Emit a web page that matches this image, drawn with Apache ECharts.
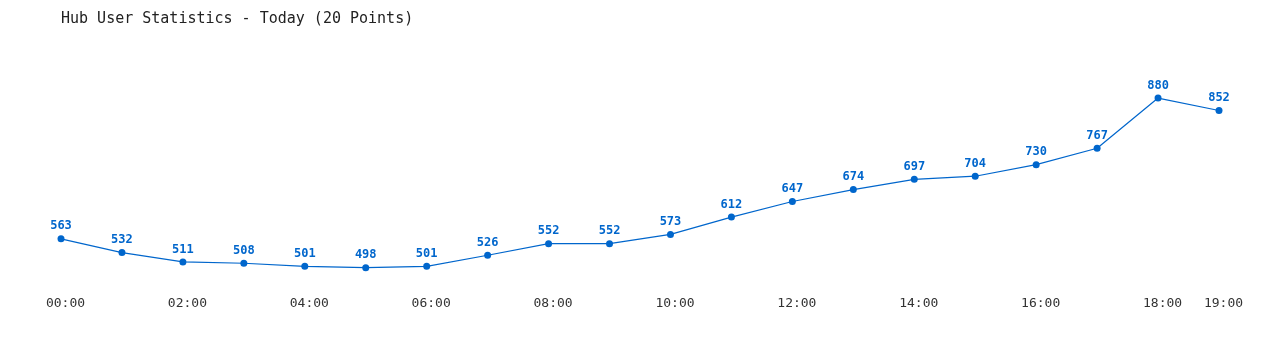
<!DOCTYPE html>
<html><head><meta charset="utf-8">
<script src="https://cdn.jsdelivr.net/npm/echarts@6/dist/echarts.min.js"></script>
<style>html,body{margin:0;padding:0;background:#fff}#c{width:1280px;height:350px}</style>
</head><body><div id="c"></div>
<script>
const titleText = 'Hub User Statistics - Today (20 Points)';
const categories = ['00:00','01:00','02:00','03:00','04:00','05:00','06:00','07:00','08:00','09:00','10:00','11:00','12:00','13:00','14:00','15:00','16:00','17:00','18:00','19:00'];
const users = [563,532,511,508,501,498,501,526,552,552,573,612,647,674,697,704,730,767,880,852];

const chart = echarts.init(document.getElementById('c'), null, {renderer:'canvas'});
const mono = '"DejaVu Sans Mono", "Liberation Mono", monospace';
chart.setOption({
  animation: false,
  backgroundColor: '#ffffff',
  title: {
    text: titleText, left: 56, top: 7,
    textStyle: {fontFamily: mono, fontSize: 15, fontWeight: 'normal', color: '#222'}
  },
  grid: {left: 61, right: 61, top: 67, bottom: 61},
  xAxis: {
    type: 'category', data: categories, boundaryGap: false,
    axisLine: {show: false}, axisTick: {show: false}, splitLine: {show: false},
    axisLabel: {
      interval: (i) => i % 2 === 0 || i === categories.length - 1,
      fontFamily: mono, fontSize: 13, color: '#333', margin: 8,
      padding: [0, 0, 0, 9]
    }
  },
  yAxis: {
    type: 'value', min: 450, max: 950, show: false,
    splitLine: {show: false}
  },
  series: [{
    type: 'line', data: users,
    symbol: 'circle', symbolSize: 7,
    lineStyle: {color: '#0066cc', width: 1.2},
    itemStyle: {color: '#0066cc'},
    label: {
      show: true, position: 'top', distance: 3,
      fontFamily: mono, fontSize: 12, fontWeight: 'bold', color: '#0066cc'
    }
  }]
});
</script></body></html>
